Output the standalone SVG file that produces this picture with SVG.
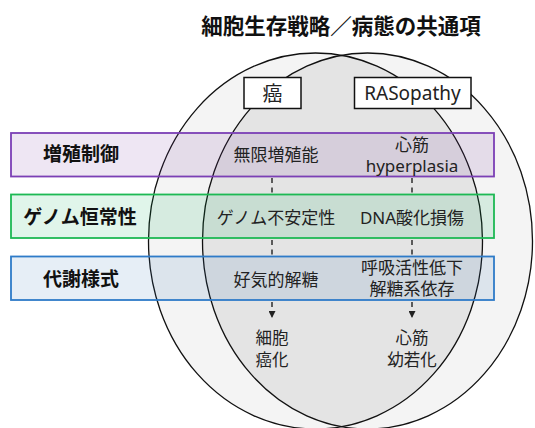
<svg xmlns="http://www.w3.org/2000/svg" width="535" height="428" viewBox="0 0 535 428">
<style>
.t{font-family:"Noto Sans","Noto Sans CJK JP",sans-serif;fill:#222;text-anchor:middle;dominant-baseline:central}
.b{font-weight:bold;fill:#111}
.c{fill:none;stroke:#111;stroke-width:1.3}
.d{fill:none;stroke:#222;stroke-width:1.4;stroke-dasharray:5 4.5}
.lbl{fill:#fff;stroke:#111;stroke-width:1.5}
</style>
<defs>
<marker id="arr" viewBox="0 0 10 10" refX="10" refY="5" markerWidth="7" markerHeight="7" orient="auto" markerUnits="userSpaceOnUse"><path d="M0,0 L10,5 L0,10 z" fill="#222"/></marker>
<clipPath id="clipA"><ellipse cx="315.5" cy="241" rx="167" ry="188"/></clipPath>
</defs>
<text class="t b" x="341" y="25" font-size="21.5">細胞生存戦略／病態の共通項</text>
<g id="sets">
<ellipse cx="315.5" cy="241" rx="167" ry="188" fill="#f4f4f4"/>
<ellipse cx="367.5" cy="241" rx="165" ry="188" fill="#f4f4f4"/>
<ellipse cx="367.5" cy="241" rx="165" ry="188" fill="#e4e4e4" clip-path="url(#clipA)"/>
<ellipse class="c" cx="315.5" cy="241" rx="167" ry="188"/>
<ellipse class="c" cx="367.5" cy="241" rx="165" ry="188"/>
</g>
<g id="row-prolif">
<rect x="11" y="133" width="483" height="43.5" fill="#7030a0" fill-opacity="0.12" stroke="#7b3fb5" stroke-width="1.8"/>
<text class="t b" x="81" y="154" font-size="19">増殖制御</text>
<text class="t" x="276" y="154" font-size="17">無限増殖能</text>
<text class="t" x="412" y="144" font-size="17">心筋</text>
<text class="t" x="412" y="165" font-size="17">hyperplasia</text>
</g>
<g id="row-genome">
<rect x="11" y="194.5" width="483" height="43.5" fill="#00b050" fill-opacity="0.12" stroke="#1db954" stroke-width="1.8"/>
<text class="t b" x="80" y="217" font-size="19">ゲノム恒常性</text>
<text class="t" x="276" y="217" font-size="17">ゲノム不安定性</text>
<text class="t" x="412" y="217" font-size="17">DNA酸化損傷</text>
</g>
<g id="row-metab">
<rect x="11" y="256.5" width="483" height="43.5" fill="#2e75b6" fill-opacity="0.12" stroke="#2e7bc8" stroke-width="1.8"/>
<text class="t b" x="81" y="279" font-size="19">代謝様式</text>
<text class="t" x="276" y="279" font-size="17">好気的解糖</text>
<text class="t" x="412" y="267" font-size="17">呼吸活性低下</text>
<text class="t" x="412" y="288" font-size="17">解糖系依存</text>
</g>
<g id="connectors">
<path class="d" d="M272,178 V194 M272,240 V256 M412,178 V194 M412,240 V256"/>
<path class="d" d="M272,302 V318" stroke-dasharray="5 5" marker-end="url(#arr)"/>
<path class="d" d="M412,302 V318" stroke-dasharray="5 5" marker-end="url(#arr)"/>
</g>
<g id="out-cancer">
<text class="t" x="272" y="337" font-size="16.5">細胞</text>
<text class="t" x="272" y="359" font-size="16.5">癌化</text>
</g>
<g id="out-heart">
<text class="t" x="412" y="337" font-size="16.5">心筋</text>
<text class="t" x="412" y="359" font-size="16.5">幼若化</text>
</g>
<g id="label-cancer">
<rect class="lbl" x="244" y="77.5" width="57" height="31"/>
<text class="t" x="272.5" y="93" font-size="20">癌</text>
</g>
<g id="label-rasopathy">
<rect class="lbl" x="354.5" y="77.5" width="116.5" height="31"/>
<text class="t" x="412.5" y="93" font-size="19">RASopathy</text>
</g>
</svg>
